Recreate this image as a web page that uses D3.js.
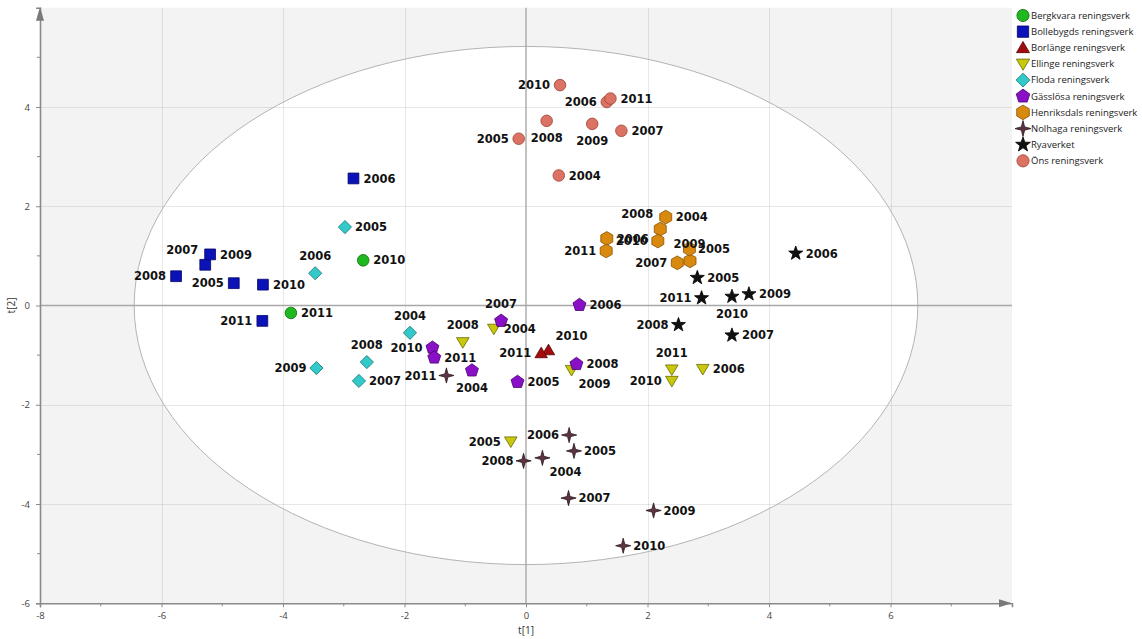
<!DOCTYPE html>
<html>
<head>
<meta charset="utf-8">
<script src="https://cdn.jsdelivr.net/npm/d3@7"></script>
<style>
  html, body { margin: 0; padding: 0; background: #fff; }
  svg { display: block; }
</style>
</head>
<body>
<svg id="chart" width="1142" height="639"></svg>
<script>
// ---- Score values (t[1], t[2]) per treatment plant and year ----
const bergkvaraYears = [2010, 2011];
const bergkvaraT1 = [-2.68, -3.87];
const bergkvaraT2 = [0.91, -0.15];

const bollebygdsYears = [2005, 2006, 2007, 2008, 2009, 2010, 2011];
const bollebygdsT1 = [-4.81, -2.84, -5.28, -5.76, -5.20, -4.33, -4.34];
const bollebygdsT2 = [0.45, 2.56, 0.82, 0.59, 1.03, 0.42, -0.31];

const borlangeYears = [2010, 2011];
const borlangeT1 = [0.37, 0.25];
const borlangeT2 = [-0.90, -0.96];

const ellingeYears = [2004, 2005, 2006, 2008, 2009, 2010, 2011];
const ellingeT1 = [-0.53, -0.25, 2.91, -1.04, 0.75, 2.40, 2.40];
const ellingeT2 = [-0.47, -2.74, -1.28, -0.74, -1.30, -1.52, -1.29];

const flodaYears = [2004, 2005, 2006, 2007, 2008, 2009];
const flodaT1 = [-1.91, -2.98, -3.47, -2.75, -2.62, -3.45];
const flodaT2 = [-0.55, 1.58, 0.65, -1.52, -1.14, -1.26];

const gasslosaYears = [2004, 2005, 2006, 2007, 2008, 2010, 2011];
const gasslosaT1 = [-0.89, -0.14, 0.88, -0.41, 0.83, -1.54, -1.51];
const gasslosaT2 = [-1.31, -1.54, 0.01, -0.31, -1.18, -0.85, -1.05];

const henriksdalsYears = [2004, 2005, 2006, 2007, 2008, 2009, 2010, 2011];
const henriksdalsT1 = [2.30, 2.70, 1.33, 2.49, 2.21, 2.69, 2.17, 1.32];
const henriksdalsT2 = [1.78, 0.90, 1.35, 0.86, 1.54, 1.14, 1.30, 1.10];

const nolhagaYears = [2004, 2005, 2006, 2007, 2008, 2009, 2010, 2011];
const nolhagaT1 = [0.27, 0.79, 0.71, 0.70, -0.04, 2.10, 1.60, -1.31];
const nolhagaT2 = [-3.07, -2.93, -2.61, -3.88, -3.13, -4.13, -4.84, -1.41];

const ryaverketYears = [2005, 2006, 2007, 2008, 2009, 2010, 2011];
const ryaverketT1 = [2.82, 4.44, 3.39, 2.51, 3.67, 3.39, 2.89];
const ryaverketT2 = [0.56, 1.05, -0.60, -0.39, 0.23, 0.18, 0.15];

const onsYears = [2004, 2005, 2006, 2007, 2008, 2009, 2010, 2011];
const onsT1 = [0.54, -0.12, 1.33, 1.57, 0.34, 1.09, 0.56, 1.39];
const onsT2 = [2.62, 3.36, 4.10, 3.52, 3.72, 3.66, 4.44, 4.17];

// Hotelling T2 (95%) ellipse semi-axes in score units
const ellipseT1 = 6.45;
const ellipseT2 = 5.22;

// Axis ticks
const xTicks = [-8, -6, -4, -2, 0, 2, 4, 6];
const yTicks = [-6, -4, -2, 0, 2, 4];
const xMinorTicks = [-7, -5, -3, -1, 1, 3, 5, 7];
const yMinorTicks = [-5, -3, -1, 1, 3, 5];

// ---- Series definitions (name, symbol, colours, label placement) ----
const series = [
  { name: "Bergkvara reningsverk", years: bergkvaraYears, t1: bergkvaraT1, t2: bergkvaraT2,
    shape: "circle", fill: "#1fb81f", stroke: "#0b6a0b",
    place: { 2010: "r", 2011: "r" } },
  { name: "Bollebygds reningsverk", years: bollebygdsYears, t1: bollebygdsT1, t2: bollebygdsT2,
    shape: "square", fill: "#0b12b8", stroke: "#050868",
    place: { 2005: "l", 2006: "r", 2007: "tl", 2008: "l", 2009: "r", 2010: "r", 2011: "l" } },
  { name: "Borlänge reningsverk", years: borlangeYears, t1: borlangeT1, t2: borlangeT2,
    shape: "triUp", fill: "#a30c0c", stroke: "#560000",
    place: { 2010: "tr", 2011: "l" } },
  { name: "Ellinge reningsverk", years: ellingeYears, t1: ellingeT1, t2: ellingeT2,
    shape: "triDown", fill: "#c8c80c", stroke: "#6a6a00",
    place: { 2004: "r", 2005: "l", 2006: "r", 2008: "t", 2009: "br", 2010: "l", 2011: "t" } },
  { name: "Floda reningsverk", years: flodaYears, t1: flodaT1, t2: flodaT2,
    shape: "diamond", fill: "#33c9c9", stroke: "#167474",
    place: { 2004: "t", 2005: "r", 2006: "t", 2007: "r", 2008: "t", 2009: "l" } },
  { name: "Gässlösa reningsverk", years: gasslosaYears, t1: gasslosaT1, t2: gasslosaT2,
    shape: "pentagon", fill: "#8a10c8", stroke: "#48006e",
    place: { 2004: "b", 2005: "r", 2006: "r", 2007: "t", 2008: "r", 2010: "l", 2011: "r" } },
  { name: "Henriksdals reningsverk", years: henriksdalsYears, t1: henriksdalsT1, t2: henriksdalsT2,
    shape: "hexagon", fill: "#d98a0e", stroke: "#875000",
    place: { 2004: "r", 2005: "tr2", 2006: "r", 2007: "l", 2008: "tl", 2009: "on", 2010: "l", 2011: "l" } },
  { name: "Nolhaga reningsverk", years: nolhagaYears, t1: nolhagaT1, t2: nolhagaT2,
    shape: "star4", fill: "#5c3442", stroke: "#2c161e",
    place: { 2004: "br", 2005: "r", 2006: "l", 2007: "r", 2008: "l", 2009: "r", 2010: "r", 2011: "l" } },
  { name: "Ryaverket", years: ryaverketYears, t1: ryaverketT1, t2: ryaverketT2,
    shape: "star5", fill: "#111111", stroke: "#000000",
    place: { 2005: "r", 2006: "r", 2007: "r", 2008: "l", 2009: "r", 2010: "b", 2011: "l" } },
  { name: "Öns reningsverk", years: onsYears, t1: onsT1, t2: onsT2,
    shape: "circle", fill: "#dc7264", stroke: "#9a4236",
    place: { 2004: "r", 2005: "l", 2006: "l", 2007: "r", 2008: "b", 2009: "b", 2010: "l", 2011: "r" } }
];

// Label offsets (pixels from the marker centre) and text anchors
const placements = {
  r:   { dx: 10,  dy: 0,   anchor: "start" },
  l:   { dx: -10, dy: 0,   anchor: "end" },
  t:   { dx: 0,   dy: -17, anchor: "middle" },
  b:   { dx: 0,   dy: 17,  anchor: "middle" },
  tr:  { dx: 23,  dy: -14, anchor: "middle" },
  br:  { dx: 23,  dy: 14,  anchor: "middle" },
  tl:  { dx: -23, dy: -15, anchor: "middle" },
  tr2: { dx: 24,  dy: -12, anchor: "middle" },
  on:  { dx: 0,   dy: -5,  anchor: "middle" }
};

// ---- Symbol paths ----
function polygon(n, r, rot) {
  const pts = [];
  for (let i = 0; i < n; i++) {
    const a = rot + i * 2 * Math.PI / n;
    pts.push([r * Math.cos(a), r * Math.sin(a)]);
  }
  return "M" + pts.map(p => p[0].toFixed(2) + "," + p[1].toFixed(2)).join("L") + "Z";
}
function star(n, ro, ri) {
  const pts = [];
  for (let i = 0; i < 2 * n; i++) {
    const a = -Math.PI / 2 + i * Math.PI / n;
    const r = i % 2 === 0 ? ro : ri;
    pts.push([r * Math.cos(a), r * Math.sin(a)]);
  }
  return "M" + pts.map(p => p[0].toFixed(2) + "," + p[1].toFixed(2)).join("L") + "Z";
}
function shapePath(shape, k) {
  k = k || 1;
  switch (shape) {
    case "circle":   return d3.arc()({ innerRadius: 0, outerRadius: 5.8 * k, startAngle: 0, endAngle: 2 * Math.PI });
    case "square":   { const h = 5.4 * k; return `M${-h},${-h}H${h}V${h}H${-h}Z`; }
    case "triUp":    return `M0,${-6 * k}L${6.2 * k},${4.6 * k}L${-6.2 * k},${4.6 * k}Z`;
    case "triDown":  return `M${-6.3 * k},${-4.6 * k}L${6.3 * k},${-4.6 * k}L0,${6 * k}Z`;
    case "diamond":  { const h = 6.6 * k; return `M0,${-h}L${h},0L0,${h}L${-h},0Z`; }
    case "pentagon": return polygon(5, 6.8 * k, -Math.PI / 2);
    case "hexagon":  return polygon(6, 6.9 * k, -Math.PI / 2);
    case "star5":    return star(5, 7.4 * k, 3.0 * k);
    case "star4":    return star(4, 7.6 * k, 2.2 * k);
  }
}

// ---- Layout ----
const svg = d3.select("#chart");
const x = d3.scaleLinear().domain([-8, 8]).range([40, 1012]);
const y = d3.scaleLinear().domain([-6, 6]).range([603.3, 7.7]);

const plotLeft = x(-8), plotRight = x(8), plotTop = y(6), plotBottom = y(-6);

// Plot background
svg.append("rect")
  .attr("x", plotLeft).attr("y", plotTop)
  .attr("width", plotRight - plotLeft).attr("height", plotBottom - plotTop)
  .attr("fill", "#f3f3f3");

// Confidence ellipse (white interior)
const ex = x(0), ey = y(0);
const erx = x(ellipseT1) - x(0), ery = y(0) - y(ellipseT2);
svg.append("ellipse")
  .attr("cx", ex).attr("cy", ey).attr("rx", erx).attr("ry", ery)
  .attr("fill", "#ffffff");

// Grid lines
const grid = svg.append("g").attr("stroke", "#000").attr("stroke-opacity", 0.09).attr("stroke-width", 1);
xTicks.filter(v => v !== -8 && v !== 0).forEach(v => {
  grid.append("line").attr("x1", Math.round(x(v)) + 0.5).attr("x2", Math.round(x(v)) + 0.5)
    .attr("y1", plotTop).attr("y2", plotBottom);
});
yTicks.filter(v => v !== -6 && v !== 0).forEach(v => {
  grid.append("line").attr("y1", Math.round(y(v)) + 0.5).attr("y2", Math.round(y(v)) + 0.5)
    .attr("x1", plotLeft).attr("x2", plotRight);
});

// Ellipse outline
svg.append("ellipse")
  .attr("cx", ex).attr("cy", ey).attr("rx", erx).attr("ry", ery)
  .attr("fill", "none").attr("stroke", "#b4b4b4").attr("stroke-width", 1);

// Zero lines
svg.append("line").attr("x1", x(0)).attr("x2", x(0)).attr("y1", plotTop).attr("y2", plotBottom)
  .attr("stroke", "#a8a8a8").attr("stroke-width", 1.4);
svg.append("line").attr("x1", plotLeft).attr("x2", plotRight).attr("y1", y(0)).attr("y2", y(0))
  .attr("stroke", "#a8a8a8").attr("stroke-width", 1.4);

// ---- Axes ----
const axisColor = "#8a8a8a";
const xAxis = svg.append("g").attr("transform", `translate(0,${plotBottom})`)
  .call(d3.axisBottom(x).tickValues(xTicks).tickSize(4).tickPadding(5).tickFormat(d3.format("d")));
const yAxis = svg.append("g").attr("transform", `translate(${plotLeft},0)`)
  .call(d3.axisLeft(y).tickValues(yTicks).tickSize(4).tickPadding(6).tickFormat(d3.format("d")));
[xAxis, yAxis].forEach(g => {
  g.select(".domain").attr("stroke", axisColor).attr("stroke-width", 1.6);
  g.selectAll(".tick line").attr("stroke", axisColor);
  g.selectAll(".tick text").attr("fill", "#444").attr("font-family", "'Open Sans', sans-serif").attr("font-size", 9.5);
});
// replace the minus sign with a plain hyphen
svg.selectAll(".tick text").text(function () { return this.textContent.replace("−", "-"); });

// Minor ticks
xMinorTicks.forEach(v => svg.append("line").attr("x1", x(v)).attr("x2", x(v))
  .attr("y1", plotBottom).attr("y2", plotBottom + 3).attr("stroke", axisColor));
yMinorTicks.forEach(v => svg.append("line").attr("y1", y(v)).attr("y2", y(v))
  .attr("x1", plotLeft - 3).attr("x2", plotLeft).attr("stroke", axisColor));

// Arrow heads
svg.append("path")
  .attr("d", `M${plotLeft},${plotTop - 1}L${plotLeft + 4},${plotTop + 13}L${plotLeft - 4},${plotTop + 13}Z`)
  .attr("fill", "#7a7a7a");
svg.append("path")
  .attr("d", `M${plotRight},${plotBottom}L${plotRight - 13},${plotBottom - 4}L${plotRight - 13},${plotBottom + 4}Z`)
  .attr("fill", "#7a7a7a");

// Axis titles
svg.append("text").attr("x", x(0)).attr("y", 634).attr("text-anchor", "middle")
  .attr("font-family", "'Open Sans', sans-serif").attr("font-size", 10).attr("fill", "#333").text("t[1]");
svg.append("text").attr("transform", `translate(15,${y(0)}) rotate(-90)`).attr("text-anchor", "middle")
  .attr("font-family", "'Open Sans', sans-serif").attr("font-size", 10).attr("fill", "#333").text("t[2]");

// ---- Markers and year labels ----
const points = [];
series.forEach(s => {
  s.years.forEach((yr, i) => points.push({ s, year: yr, t1: s.t1[i], t2: s.t2[i] }));
});

const markers = svg.append("g");
markers.selectAll("path").data(points).join("path")
  .attr("transform", d => `translate(${x(d.t1)},${y(d.t2)})`)
  .attr("d", d => shapePath(d.s.shape))
  .attr("fill", d => d.s.fill)
  .attr("stroke", d => d.s.stroke)
  .attr("stroke-width", 0.8);

const labels = svg.append("g")
  .attr("font-family", "'DejaVu Sans', Verdana, sans-serif")
  .attr("font-weight", "bold").attr("font-size", 11.5).attr("fill", "#111");
labels.selectAll("text").data(points).join("text")
  .attr("x", d => x(d.t1) + placements[d.s.place[d.year]].dx)
  .attr("y", d => y(d.t2) + placements[d.s.place[d.year]].dy)
  .attr("dy", "0.36em")
  .attr("text-anchor", d => placements[d.s.place[d.year]].anchor)
  .text(d => d.year);

// ---- Legend ----
const legend = svg.append("g").attr("transform", "translate(1023,15.5)");
const items = legend.selectAll("g").data(series).join("g")
  .attr("transform", (d, i) => `translate(0,${i * 16.15})`);
items.append("path")
  .attr("d", d => shapePath(d.shape, 1.05))
  .attr("fill", d => d.fill).attr("stroke", d => d.stroke).attr("stroke-width", 0.8);
items.append("text")
  .attr("x", 8).attr("dy", "0.35em")
  .attr("font-family", "'Open Sans', sans-serif").attr("font-size", 9.5).attr("fill", "#222")
  .text(d => d.name);
</script>
</body>
</html>
